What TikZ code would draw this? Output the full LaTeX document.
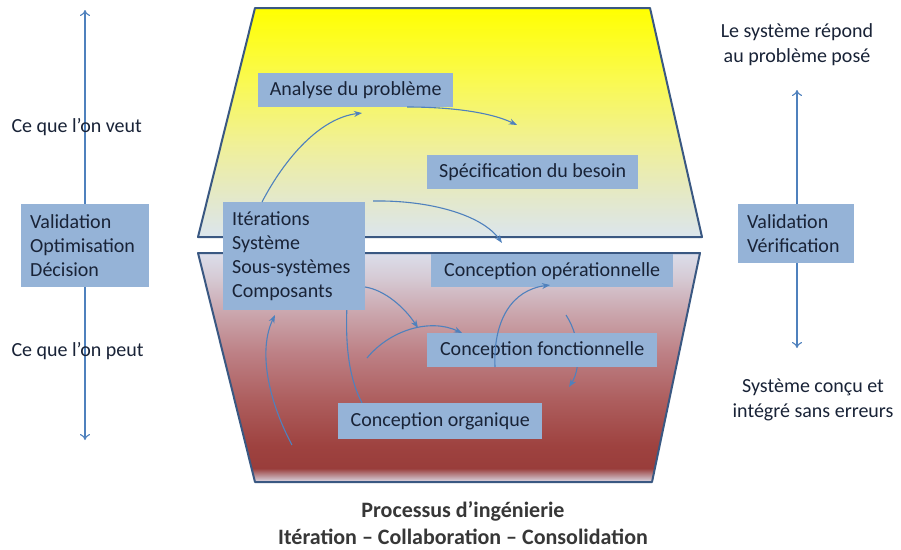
\documentclass[tikz,border=0pt]{standalone}
\usepackage{fontspec}
\setmainfont{Carlito}
\usetikzlibrary{arrows.meta}

\definecolor{boxblue}{RGB}{149,179,215}
\definecolor{linkblue}{RGB}{79,129,189}
\definecolor{edgeblue}{RGB}{58,88,130}
\definecolor{textdark}{RGB}{25,35,55}
\definecolor{titlegray}{RGB}{55,55,55}

\pgfdeclareverticalshading{upperfill}{100bp}{rgb(0bp)=(0.86,0.9,0.93); rgb(25bp)=(0.86,0.9,0.93);
  rgb(33bp)=(0.89,0.91,0.8); rgb(45bp)=(0.94,0.94,0.6); rgb(60bp)=(0.98,0.98,0.3);
  rgb(75bp)=(1,1,0); rgb(100bp)=(1,1,0)}
\pgfdeclareverticalshading{lowerfill}{100bp}{rgb(0bp)=(0.86,0.86,0.91); rgb(25bp)=(0.86,0.86,0.91);
  rgb(28bp)=(0.6,0.24,0.23); rgb(33bp)=(0.62,0.26,0.25); rgb(43bp)=(0.68,0.37,0.37);
  rgb(53bp)=(0.74,0.5,0.52); rgb(63bp)=(0.8,0.67,0.7); rgb(70bp)=(0.84,0.8,0.84);
  rgb(75bp)=(0.86,0.87,0.92); rgb(100bp)=(0.86,0.87,0.92)}

\tikzset{
  box/.style={fill=boxblue, text=textdark, inner sep=0pt, anchor=north west,
    font=\fontsize{20}{24}\selectfont},
  multi/.style={box, align=left, text width=#1, inner xsep=9pt},
  link/.style={linkblue, line width=1.1pt, -{Stealth[length=8pt, width=6pt]}},
  axis/.style={linkblue, line width=1.1pt, {To[length=6pt, width=10pt]}-{To[length=6pt, width=10pt]}},
  side/.style={text=textdark, font=\fontsize{20}{25}\selectfont},
  layer/.style={draw=edgeblue, line width=2pt, line join=round},
}

\begin{document}
\begin{tikzpicture}[x=1pt, y=-1pt]
  \useasboundingbox[fill=white] (0,0) rectangle (901,549);

  % the two layers
  \shade[layer, shading=upperfill] (255,8) -- (650,8) -- (702,237) -- (198,237) -- cycle;
  \shade[layer, shading=lowerfill] (198,253) -- (700,253) -- (652,482) -- (255,482) -- cycle;

  % side axes
  \draw[axis] (85,10) -- (85,440);
  \draw[axis] (797,90) -- (797,348);
  \node[side, anchor=west] (veut) at (8,127) {Ce que l’on veut};
  \node[side, anchor=west] (peut) at (8,351) {Ce que l’on peut};
  \node[side, align=center] (repond) at (797,45) {Le système répond\\au problème posé};
  \node[side, align=center] (concu) at (813,400) {Système conçu et\\intégré sans erreurs};

  % links hidden behind the boxes
  \coordinate (c1) at (566,315);
  \coordinate (c2) at (569,387);
  \coordinate (c3) at (292,445);
  \coordinate (c4) at (367,358);
  \coordinate (c5) at (418,328);
  \draw[link] (c1) .. controls (582,340) and (580,370) .. (c2);
  \draw[link] (c3) .. controls (268,400) and (258,350) .. (275,315);
  \draw[linkblue, line width=1.1pt] (362,403) .. controls (350,380) and (345,350) .. (347,305);

  % boxes
  \node[box, minimum width=195, minimum height=34] (ana) at (258,73) {Analyse du problème};
  \node[box, minimum width=211, minimum height=34] (spec) at (427,155) {Spécification du besoin};
  \node[box, minimum width=242, minimum height=33] (oper) at (431,254) {Conception opérationnelle};
  \node[box, minimum width=230, minimum height=34] (fonc) at (427,333) {Conception fonctionnelle};
  \node[box, minimum width=204, minimum height=36] (orga) at (338,403) {Conception organique};
  \node[multi=124, minimum height=108] (iter) at (223,202) {Itérations\\Système\\Sous-systèmes\\Composants};
  \node[multi=110, minimum height=83] (vod) at (21,204) {Validation\\Optimisation\\Décision};
  \node[multi=98, minimum height=59] (vv) at (738,204) {Validation\\Vérification};

  % links drawn over
  \begin{scope}
    \draw[link] (262,202) .. controls (285,158) and (320,118) .. (362,113);
    \draw[link] (407,107) .. controls (450,107) and (490,112) .. (517,125);
    \draw[link] (373,201) .. controls (430,200) and (482,215) .. (502,243);
    \draw[link] (365,287) .. controls (385,290) and (405,308) .. (c5);
    \draw[link] (c4) .. controls (390,330) and (430,318) .. (462,333);
    \draw[link] (495,367) .. controls (493,320) and (512,290) .. (550,285);
  \end{scope}

  % caption
  \node[titlegray, font=\bfseries\fontsize{22}{27}\selectfont, align=center] (titre)
    at (463,523) {Processus d’ingénierie\\Itération – Collaboration – Consolidation};
\end{tikzpicture}
\end{document}
